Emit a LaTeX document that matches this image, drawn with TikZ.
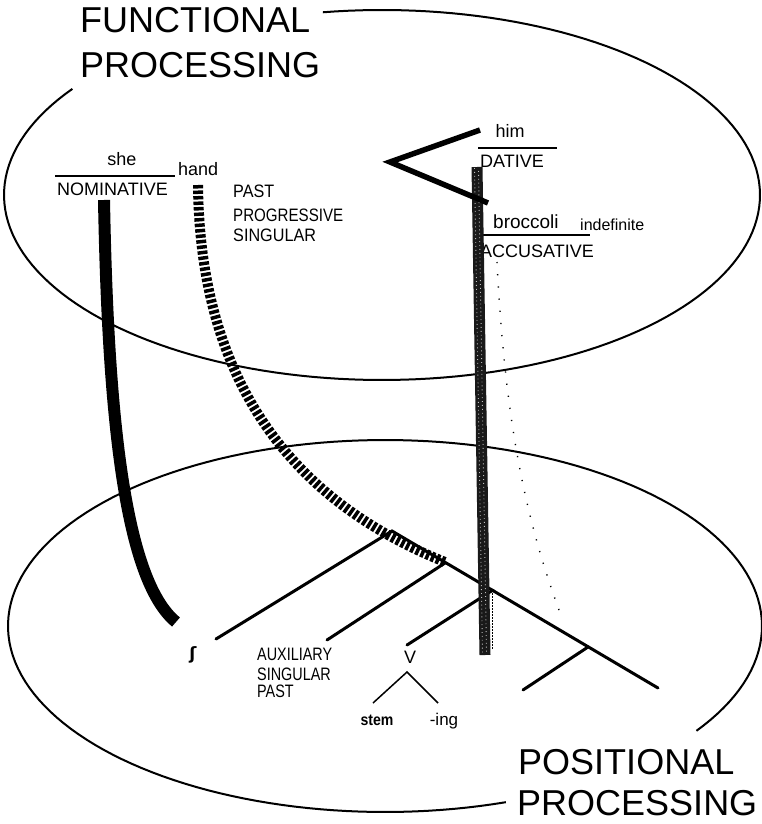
\documentclass[tikz,border=0pt]{standalone}
\usepackage{fontspec}
\setmainfont{Liberation Sans}
\newfontfamily\dejavu{DejaVu Sans}
\begin{document}
\begin{tikzpicture}[x=1pt,y=-1pt]
\tikzset{
  rim/.style={line width=2pt},
  branch/.style={line width=3pt, line cap=round},
  twig/.style={line width=1.5pt},
  rulel/.style={line width=1.8pt},
  lbl/.style={inner sep=0pt, anchor=base west, font=\fontsize{18}{20}\selectfont},
  title/.style={inner sep=0pt, anchor=base west, font=\fontsize{36}{40}\selectfont},
  solidpath/.style={line width=12pt},
  dashpath/.style={line width=10pt, dash pattern=on 3.5pt off 2pt},
  greypath/.style={line width=11pt, black!90},
  speck/.style={line width=0.9pt, black!25, dash pattern=on 0.9pt off 3pt},
  faint/.style={line width=1.4pt, dash pattern=on 1.2pt off 11pt},
  vshape/.style={line width=5.5pt, line join=miter}
}
\useasboundingbox (0,0) rectangle (762,824);
% ellipses
\draw[rim] plot[domain=261:575, samples=160] ({382+378*cos(\x)},{195+185*sin(\x)});
\draw[rim] plot[domain=71.3:394.3, samples=160] ({385+377*cos(\x)},{626+186*sin(\x)});
% titles
\node[title] (f1) at (80,33) {FUNCTIONAL};
\node[title] (f2) at (80,78) {PROCESSING};
\node[title] (p1) at (518,774) {POSITIONAL};
\node[title] (p2) at (517,815) {PROCESSING};
% top labels
\node[lbl, anchor=base] (she) at (122,165) {she};
\draw[rulel] (55,176) coordinate (nl) -- (175,176) coordinate (nr);
\node[lbl] (nom) at (57,195) {NOMINATIVE};
\node[lbl] (hand) at (178,175) {hand};
\node[lbl] (past) at (233,197) {\scalebox{0.9}[1]{PAST}};
\node[lbl] (prog) at (233,221) {\scalebox{0.84}[1]{PROGRESSIVE}};
\node[lbl] (sing) at (233,241) {\scalebox{0.9}[1]{SINGULAR}};
\node[lbl, anchor=base] (him) at (510,138) {him};
\draw[rulel] (478,148) coordinate (dl) -- (557,148) coordinate (dr);
\node[lbl] (dat) at (480,167) {DATIVE};
\node[lbl, font=\fontsize{19}{20}\selectfont] (broc) at (493,228) {broccoli};
\node[lbl, font=\fontsize{16}{18}\selectfont] (indef) at (580,230) {indefinite};
\draw[rulel] (480,235) coordinate (al) -- (590,235) coordinate (ar);
\node[lbl] (acc) at (480,257) {ACCUSATIVE};
% tree
\coordinate (apex) at (392,531);
\coordinate (mainend) at (658,688);
\coordinate (leftend) at (216,639);
\coordinate (b2s) at (445,563);
\coordinate (b2e) at (327,640);
\coordinate (b3s) at (493,590);
\coordinate (b3e) at (407,645);
\coordinate (b4s) at (588,647);
\coordinate (b4e) at (523,690);
\draw[branch] (leftend) -- (apex) -- (mainend);
\draw[branch] (b2s) -- (b2e);
\draw[branch] (b3s) -- (b3e);
\draw[branch] (b4s) -- (b4e);
\node[inner sep=0pt, font=\dejavu\fontsize{17}{18}\selectfont\bfseries] (esh) at (193,655) {ʃ};
\node[lbl] (aux1) at (257,660) {\scalebox{0.8}[1]{AUXILIARY}};
\node[lbl] (aux2) at (257,680) {\scalebox{0.8}[1]{SINGULAR}};
\node[lbl] (aux3) at (257,697) {\scalebox{0.8}[1]{PAST}};
\node[lbl, anchor=base] (v) at (410,663) {V};
\node[lbl, anchor=base, font=\fontsize{16}{18}\selectfont\bfseries] (stem) at (377,725) {\scalebox{0.88}[1]{stem}};
\node[lbl, anchor=base, font=\fontsize{17}{18}\selectfont] (ing) at (444,725) {-ing};
\coordinate (vb) at (407,672);
\draw[twig] (373,703) coordinate (sl) -- (vb) -- (438,703) coordinate (ir);
% connectors between layers
\draw[solidpath] (104,200) .. controls (108,420) and (125,580) .. (176,622);
\draw[dashpath] (198,185) .. controls (200,380) and (290,500) .. (445,562);
\draw[faint] (497,262) .. controls (505,420) and (525,520) .. (562,618);
\draw[greypath] (477,167) -- (485,655);
\draw[speck] (474.5,168) -- (482.5,654);
\draw[speck, dash phase=1.9pt] (478.5,169) -- (486.5,654);
\draw[line width=1pt, dash pattern=on 1.5pt off 1.5pt] (492,593) -- (492,650);
\draw[vshape] (480,130) -- (390,162) -- (488,203);
\end{tikzpicture}
\end{document}
